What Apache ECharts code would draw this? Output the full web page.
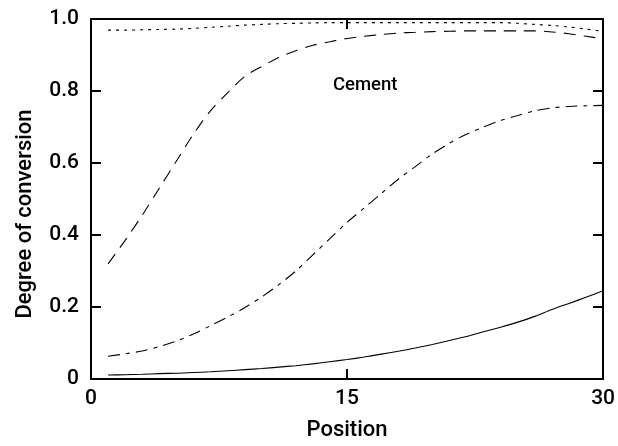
<!DOCTYPE html>
<html>
<head>
<meta charset="utf-8">
<script src="https://cdn.jsdelivr.net/npm/echarts@6/dist/echarts.min.js"></script>
<style>
  html, body { margin: 0; padding: 0; background: #fff; }
  #chart { width: 618px; height: 446px; }
</style>
</head>
<body>
<div id="chart"></div>
<script>
// Positions along the sample
const positions = [1,2,3,4,5,6,7,8,9,10,11,12,13,14,15,16,17,18,19,20,21,22,23,24,25,26,27,28,29,30];

// Degree of conversion per curve
const solidCurve = [0.011,0.012,0.013,0.015,0.016,0.018,0.020,0.023,0.026,0.029,0.033,0.037,0.042,0.048,0.054,0.061,0.069,0.077,0.086,0.096,0.107,0.118,0.131,0.144,0.158,0.174,0.193,0.210,0.227,0.245];
const dashDotCurve = [0.063,0.070,0.078,0.090,0.105,0.125,0.148,0.172,0.198,0.228,0.262,0.300,0.345,0.390,0.435,0.475,0.515,0.555,0.590,0.625,0.655,0.680,0.700,0.718,0.732,0.745,0.753,0.757,0.759,0.760];
const dashedCurve = [0.320,0.385,0.455,0.530,0.605,0.680,0.745,0.795,0.840,0.868,0.893,0.912,0.927,0.937,0.946,0.952,0.957,0.961,0.963,0.965,0.966,0.967,0.967,0.967,0.967,0.967,0.964,0.959,0.952,0.945];
const dottedCurve = [0.969,0.969,0.970,0.971,0.972,0.974,0.977,0.980,0.983,0.985,0.987,0.988,0.989,0.990,0.990,0.990,0.990,0.990,0.990,0.990,0.990,0.990,0.990,0.990,0.988,0.985,0.982,0.978,0.972,0.966];

// Axis tick labels
const xTicks = [0, 15, 30];
const yTicks = ['0', '0.2', '0.4', '0.6', '0.8', '1.0'];

const font = 'Roboto, "Liberation Sans", Arial, sans-serif';
const weight = 500;

function pairs(ys) {
  return positions.map((x, i) => [x, ys[i]]);
}

function lineSeries(ys, dash, name) {
  return {
    name: name,
    type: 'line',
    data: pairs(ys),
    showSymbol: false,
    smooth: 0.3,
    lineStyle: { color: '#000', width: 1.1, type: dash },
    animation: false
  };
}

// Frame side without labels (top / right)
function frameAxis(extra) {
  return Object.assign({
    type: 'value',
    axisLine: { onZero: false, lineStyle: { color: '#000', width: 2 } },
    axisTick: { inside: true, length: 10, lineStyle: { color: '#000', width: 2 } },
    axisLabel: { show: false },
    splitLine: { show: false }
  }, extra);
}

const chart = echarts.init(document.getElementById('chart'));

chart.setOption({
  backgroundColor: '#fff',
  grid: { left: 91, right: 13, top: 19, bottom: 64 },
  xAxis: [
    {
      type: 'value', min: 0, max: 30, interval: 15,
      name: 'Position', nameLocation: 'middle', nameGap: 40,
      nameTextStyle: { fontFamily: font, fontWeight: weight, fontSize: 22, color: '#000' },
      axisLine: { onZero: false, lineStyle: { color: '#000', width: 2 } },
      axisTick: { inside: true, length: 10, lineStyle: { color: '#000', width: 2 } },
      axisLabel: {
        margin: 9, fontFamily: font, fontWeight: weight, fontSize: 21, color: '#000',
        formatter: v => String(xTicks[xTicks.indexOf(v)])
      },
      splitLine: { show: false }
    },
    frameAxis({ min: 0, max: 30, interval: 15, position: 'top' })
  ],
  yAxis: [
    {
      type: 'value', min: 0, max: 1, interval: 0.2,
      axisLine: { onZero: false, lineStyle: { color: '#000', width: 2 } },
      axisTick: { inside: true, length: 10, lineStyle: { color: '#000', width: 2 } },
      axisLabel: {
        margin: 12, fontFamily: font, fontWeight: weight, fontSize: 21, color: '#000',
        formatter: v => yTicks[Math.round(v * 5)]
      },
      splitLine: { show: false }
    },
    frameAxis({ min: 0, max: 1, interval: 0.2, position: 'right' })
  ],
  series: [
    lineSeries(solidCurve, 'solid', 'solid'),
    lineSeries(dashDotCurve, [12, 6, 4, 6], 'dashdot'),
    lineSeries(dashedCurve, [12, 8], 'dashed'),
    lineSeries(dottedCurve, [3, 5], 'dotted')
  ],
  graphic: [
    {
      type: 'text', x: 25, y: 214, rotation: Math.PI / 2,
      style: {
        text: 'Degree of conversion', fontFamily: font, fontWeight: weight, fontSize: 22, fill: '#000',
        align: 'center', verticalAlign: 'middle'
      }
    },
    {
      type: 'text', left: 333, top: 76,
      style: { text: 'Cement', fontFamily: font, fontWeight: weight, fontSize: 18.5, fill: '#000' }
    }
  ]
});
</script>
</body>
</html>
